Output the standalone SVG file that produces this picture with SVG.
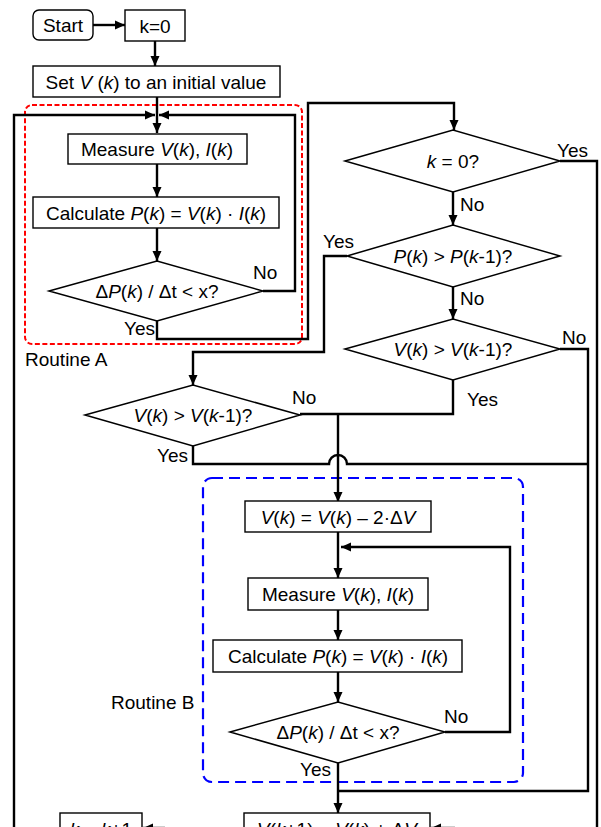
<svg xmlns="http://www.w3.org/2000/svg" width="601" height="827" viewBox="0 0 601 827">
<style>
text{font-family:"Liberation Sans",Arial,sans-serif;font-size:19px;fill:#000}
.c{text-anchor:middle}
.i{font-style:italic}
.box{fill:#fff;stroke:#000;stroke-width:1.4}
.dia{fill:#fff;stroke:#000;stroke-width:1.5}
.ln{fill:none;stroke:#000;stroke-width:2.4}
.arr{marker-end:url(#ah)}
</style>
<defs>
<marker id="ah" markerUnits="userSpaceOnUse" markerWidth="10" markerHeight="10" refX="10" refY="5" orient="auto">
<path d="M0,0.5 L10,5 L0,9.5 z" fill="#000"/>
</marker>
</defs>
<rect x="0" y="0" width="601" height="827" fill="#fff"/>

<g id="routineA-frame">
<rect x="25" y="105" width="277" height="239" rx="7" fill="none" stroke="#f00" stroke-width="2" stroke-dasharray="5,2.5"/>
<text x="25" y="366">Routine A</text>
</g>
<g id="routineB-frame">
<rect x="203" y="478" width="320" height="304" rx="9" fill="none" stroke="#00f" stroke-width="2.2" stroke-dasharray="11,6"/>
<text x="111" y="709">Routine B</text>
</g>

<g id="connectors">
<path class="ln arr" d="M93,25 H125"/>
<path class="ln arr" d="M155,41 V66"/>
<path class="ln arr" d="M157,97 V133"/>
<path class="ln arr" d="M157,164 V197"/>
<path class="ln arr" d="M157,228 V261"/>
<path class="ln arr" d="M14,830 V115 H155"/>
<path class="ln arr" d="M263,291 H295 V115 H159"/>
<path class="ln arr" d="M157,321 V339 H308 V103 H454 V130"/>
<path class="ln arr" d="M453,192 V225"/>
<path class="ln" d="M560,161 H597 V830"/>
<path class="ln arr" d="M347,256 H324 V352 H193 V385"/>
<path class="ln arr" d="M453,287 V319"/>
<path class="ln" d="M560,349 H588 V791 H338"/>
<path class="ln" d="M453,380 V414 H300"/>
<path class="ln arr" d="M338,414 V502"/>
<path class="ln" d="M193,446 V464 H329 A9,9 0 0 1 347,464 H588"/>
<path class="ln arr" d="M338,532 V578"/>
<path class="ln arr" d="M338,610 V640"/>
<path class="ln arr" d="M338,672 V702"/>
<path class="ln arr" d="M445,732 H510 V547 H341"/>
<path class="ln arr" d="M338,763 V813"/>
<path class="ln arr" d="M165,828 H143"/>
<path class="ln arr" d="M455,828 H431"/>
</g>

<g id="start">
<rect class="box" x="33" y="10" width="60" height="30" rx="6"/>
<text class="c" x="63" y="32">Start</text>
</g>
<g id="k0">
<rect class="box" x="125" y="10" width="60" height="31"/>
<text class="c" x="155" y="33">k=0</text>
</g>
<g id="setV">
<rect class="box" x="33" y="66" width="247" height="31"/>
<text class="c" x="156" y="89">Set <tspan class="i">V</tspan> (<tspan class="i">k</tspan>) to an initial value</text>
</g>
<g id="measureA">
<rect class="box" x="68" y="134" width="179" height="30"/>
<text class="c" x="157" y="156">Measure <tspan class="i">V</tspan>(<tspan class="i">k</tspan>), <tspan class="i">I</tspan>(<tspan class="i">k</tspan>)</text>
</g>
<g id="calcA">
<rect class="box" x="33" y="197" width="246" height="31"/>
<text class="c" x="156" y="220">Calculate <tspan class="i">P</tspan>(<tspan class="i">k</tspan>) = <tspan class="i">V</tspan>(<tspan class="i">k</tspan>) · <tspan class="i">I</tspan>(<tspan class="i">k</tspan>)</text>
</g>
<g id="diaA">
<polygon class="dia" points="49,291 157,261 263,291 157,321"/>
<text class="c" x="157" y="298">Δ<tspan class="i">P</tspan>(<tspan class="i">k</tspan>) / Δt &lt; x?</text>
<text x="253" y="279">No</text>
<text x="124" y="335">Yes</text>
</g>
<g id="diaK0">
<polygon class="dia" points="345,161 453,130 560,161 453,192"/>
<text class="c" x="453" y="168"><tspan class="i">k</tspan> = 0?</text>
<text x="557" y="157">Yes</text>
<text x="460" y="211">No</text>
</g>
<g id="diaP">
<polygon class="dia" points="347,256 453,225 560,256 453,287"/>
<text class="c" x="453" y="263"><tspan class="i">P</tspan>(<tspan class="i">k</tspan>) &gt; <tspan class="i">P</tspan>(<tspan class="i">k</tspan>-1)?</text>
<text x="323" y="248">Yes</text>
<text x="460" y="305">No</text>
</g>
<g id="diaVright">
<polygon class="dia" points="345,349 453,319 560,349 453,380"/>
<text class="c" x="453" y="356"><tspan class="i">V</tspan>(<tspan class="i">k</tspan>) &gt; <tspan class="i">V</tspan>(<tspan class="i">k</tspan>-1)?</text>
<text x="562" y="344">No</text>
<text x="467" y="406">Yes</text>
</g>
<g id="diaVleft">
<polygon class="dia" points="85,415 193,385 300,415 193,446"/>
<text class="c" x="193" y="422"><tspan class="i">V</tspan>(<tspan class="i">k</tspan>) &gt; <tspan class="i">V</tspan>(<tspan class="i">k</tspan>-1)?</text>
<text x="292" y="404">No</text>
<text x="157" y="462">Yes</text>
</g>
<g id="decV">
<rect class="box" x="245" y="501" width="186" height="31"/>
<text class="c" x="338" y="524"><tspan class="i">V</tspan>(<tspan class="i">k</tspan>) = <tspan class="i">V</tspan>(<tspan class="i">k</tspan>) – 2·Δ<tspan class="i">V</tspan></text>
</g>
<g id="measureB">
<rect class="box" x="248" y="578" width="180" height="32"/>
<text class="c" x="338" y="601">Measure <tspan class="i">V</tspan>(<tspan class="i">k</tspan>), <tspan class="i">I</tspan>(<tspan class="i">k</tspan>)</text>
</g>
<g id="calcB">
<rect class="box" x="213" y="640" width="249" height="32"/>
<text class="c" x="338" y="663">Calculate <tspan class="i">P</tspan>(<tspan class="i">k</tspan>) = <tspan class="i">V</tspan>(<tspan class="i">k</tspan>) · <tspan class="i">I</tspan>(<tspan class="i">k</tspan>)</text>
</g>
<g id="diaB">
<polygon class="dia" points="230,732 338,702 445,732 338,763"/>
<text class="c" x="338" y="739">Δ<tspan class="i">P</tspan>(<tspan class="i">k</tspan>) / Δt &lt; x?</text>
<text x="444" y="723">No</text>
<text x="300" y="776">Yes</text>
</g>
<g id="incK">
<rect class="box" x="60" y="813" width="82" height="31"/>
<text class="c" x="101" y="836"><tspan class="i">k</tspan> = <tspan class="i">k</tspan>+1</text>
</g>
<g id="incV">
<rect class="box" x="244" y="813" width="186" height="31"/>
<text class="c" x="337" y="836"><tspan class="i">V</tspan>(<tspan class="i">k</tspan>+1) = <tspan class="i">V</tspan>(<tspan class="i">k</tspan>) + Δ<tspan class="i">V</tspan></text>
</g>
</svg>
